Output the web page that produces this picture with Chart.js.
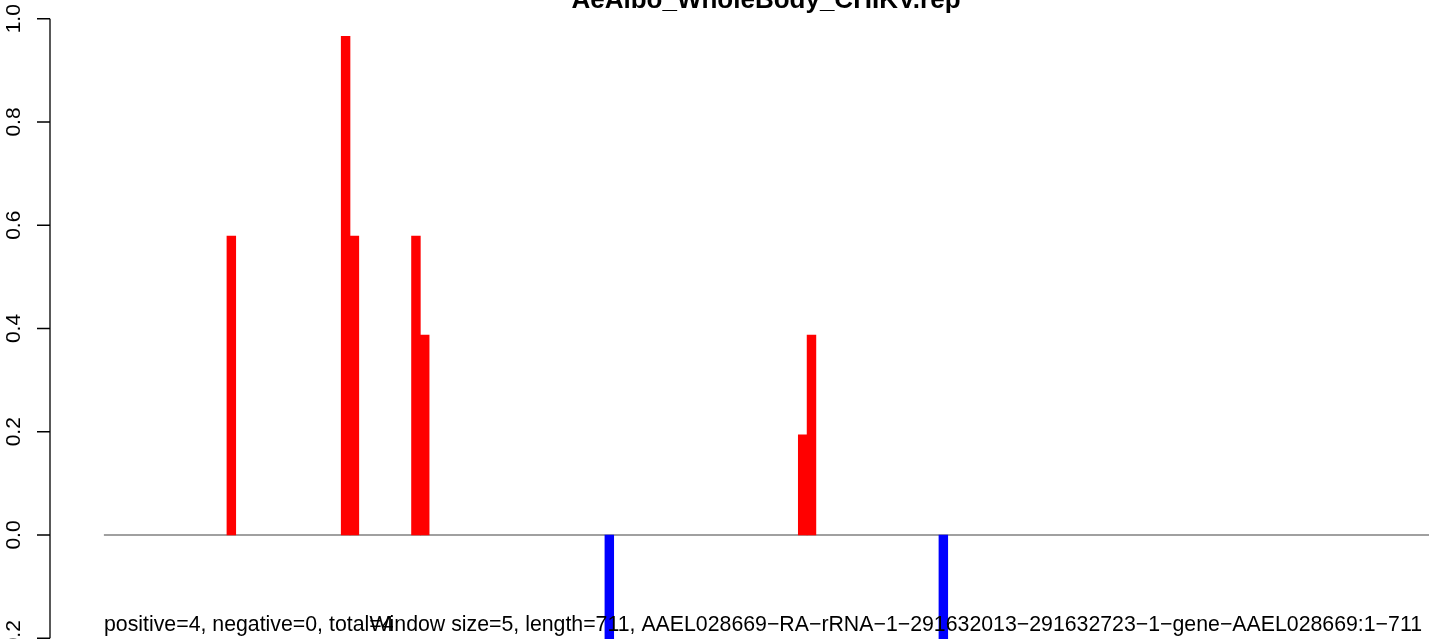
<!DOCTYPE html>
<html>
<head>
<meta charset="utf-8">
<script src="https://cdn.jsdelivr.net/npm/chart.js@4.4.1/dist/chart.umd.min.js"></script>
<style>
  html, body { margin: 0; padding: 0; background: #fff; }
  #wrap { width: 1429px; height: 639px; position: relative; }
</style>
</head>
<body>
<div id="wrap"><canvas id="chart"></canvas></div>
<script>
const titleText = 'AeAlbo_WholeBody_CHIKV.rep'
const countsText = 'positive=4, negative=0, total=4'
const infoText = 'Window size=5, length=711, AAEL028669\u2212RA\u2212rRNA\u22121\u2212291632013\u2212291632723\u22121\u2212gene\u2212AAEL028669:1\u2212711'

// window index and score for every non-empty window
const bins = [14, 27, 28, 35, 36, 57, 79, 80, 95]
const scores = [0.579, 0.966, 0.579, 0.579, 0.387, -0.39, 0.194, 0.387, -0.39]

const yTicks = [-0.2, 0.0, 0.2, 0.4, 0.6, 0.8, 1.0]
const yTickLabels = ['-0.2', '0.0', '0.2', '0.4', '0.6', '0.8', '1.0']

const xMin = -6.13
const xMax = 150.75
const yMin = -0.2015
const yMax = 1.0363

var chart = null;

function getBarData(){
    return bins.map((b, i) => ({ x: b + 0.5, y: scores[i] }))
}

function barColor(ctx){
    const v = ctx.raw ? ctx.raw.y : 0
    return v < 0 ? '#0000FF' : '#FF0000'
}

const rAxisPlugin = {
    id: 'rAxis',
    afterDraw(c) {
        const ctx = c.ctx
        const y = c.scales.y
        const top = y.getPixelForValue(yTicks[yTicks.length - 1])
        const bottom = y.getPixelForValue(yTicks[0])
        ctx.save()
        ctx.strokeStyle = '#000'
        ctx.lineWidth = 1.3
        ctx.beginPath()
        ctx.moveTo(50, top)
        ctx.lineTo(50, bottom)
        yTicks.forEach(t => {
            const py = y.getPixelForValue(t)
            ctx.moveTo(37, py)
            ctx.lineTo(50, py)
        })
        ctx.stroke()

        ctx.fillStyle = '#000'
        ctx.font = '21px "Liberation Sans", Arial, sans-serif'
        ctx.textAlign = 'center'
        ctx.textBaseline = 'alphabetic'
        yTicks.forEach((t, i) => {
            const py = y.getPixelForValue(t)
            ctx.save()
            ctx.translate(20, py)
            ctx.rotate(-Math.PI / 2)
            ctx.fillText(yTickLabels[i], 0, 0)
            ctx.restore()
        })

        ctx.font = 'bold 26px "Liberation Sans", Arial, sans-serif'
        ctx.fillText(titleText, 766, 8)

        ctx.font = '21.3px "Liberation Sans", Arial, sans-serif'
        ctx.textAlign = 'left'
        ctx.fillText(countsText, 104, 631)
        ctx.textAlign = 'right'
        ctx.fillText(infoText, 1422, 631)
        ctx.restore()
    }
}

function drawChart() {
    chart = new Chart(document.getElementById('chart'), {
      type: 'bar',
      data: {
        datasets: [
          {
            type: 'bar',
            data: getBarData(),
            backgroundColor: barColor,
            borderWidth: 0,
            barPercentage: 1,
            categoryPercentage: 1,
            order: 1
          },
          {
            type: 'line',
            data: [{ x: 0, y: 0 }, { x: xMax, y: 0 }],
            borderColor: '#A0A0A0',
            borderWidth: 2,
            pointRadius: 0,
            order: 2
          }
        ]
      },
      options: {
        responsive: true,
        maintainAspectRatio: false,
        animation: false,
        layout: { padding: { left: 50, right: 0, top: 0, bottom: 0 } },
        plugins: {
          legend: { display: false },
          title: { display: false },
          tooltip: { enabled: false }
        },
        scales: {
          x: { type: 'linear', min: xMin, max: xMax, offset: false, display: false },
          y: { min: yMin, max: yMax, display: false }
        }
      },
      plugins: [rAxisPlugin]
    });
}

drawChart()
</script>
</body>
</html>
